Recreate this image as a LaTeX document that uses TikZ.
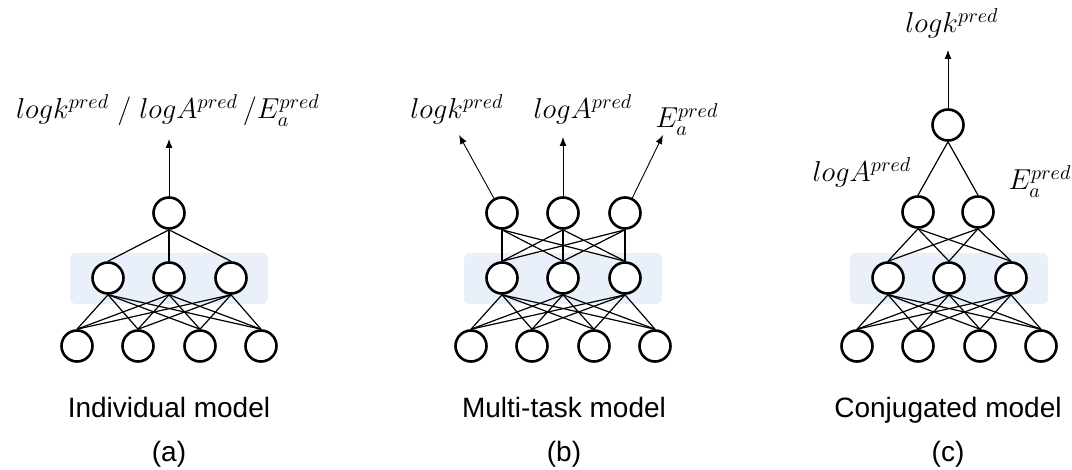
\documentclass[tikz,border=0pt]{standalone}
\usepackage{fontspec}
\setmainfont{Liberation Sans}
\usetikzlibrary{arrows.meta}
\definecolor{boxblue}{RGB}{233,240,249}

\begin{document}
\begin{tikzpicture}[x=0.5pt, y=-0.5pt,
    neuron/.style={circle, draw, fill=white, line width=1.3pt, minimum size=15.5pt, inner sep=0pt},
    link/.style={line width=0.6pt},
    outarrow/.style={-{Latex[length=4.5pt,width=3.5pt]}, line width=0.45pt},
    lbl/.style={font=\fontsize{14.5}{16}\selectfont, inner sep=0pt, anchor=base},
    captext/.style={font=\fontsize{14}{16}\selectfont, inner sep=0pt, anchor=base}]
    \useasboundingbox (0,0) rectangle (1072,470);

    % hidden layer boxes
    \fill[boxblue, rounded corners=3pt] (70,253) rectangle (268,304);
    \fill[boxblue, rounded corners=3pt] (464,253) rectangle (662,304);
    \fill[boxblue, rounded corners=3pt] (850,253) rectangle (1048,304);

    % (a) individual model
    \node[neuron] (a1) at (77,346) {};
    \node[neuron] (a2) at (138,346) {};
    \node[neuron] (a3) at (200,346) {};
    \node[neuron] (a4) at (261,346) {};
    \node[neuron] (ah1) at (108,278) {};
    \node[neuron] (ah2) at (169,278) {};
    \node[neuron] (ah3) at (231,278) {};
    \node[neuron] (ao) at (169,213) {};
    \coordinate (ta) at (169,139);
    \node[lbl] (la) at (168,119) {$logk^{pred}\ /\ logA^{pred}\,/E_a^{pred}$};

    \foreach \i in {1,...,4}
        \foreach \j in {1,2,3}
            \draw[link] (a\i.north) -- (ah\j.south);
    \foreach \j in {1,2,3}
        \draw[link] (ah\j.north) -- (ao.south);
    \draw[outarrow] (ao) -- (ta);

    % (b) multi-task model
    \node[neuron] (b1) at (471,346) {};
    \node[neuron] (b2) at (532,346) {};
    \node[neuron] (b3) at (594,346) {};
    \node[neuron] (b4) at (655,346) {};
    \node[neuron] (bh1) at (502,278) {};
    \node[neuron] (bh2) at (563,278) {};
    \node[neuron] (bh3) at (625,278) {};
    \node[neuron] (bo1) at (502,213) {};
    \node[neuron] (bo2) at (563,213) {};
    \node[neuron] (bo3) at (625,213) {};
    \coordinate (tb1) at (459,135);
    \coordinate (tb2) at (563,137);
    \coordinate (tb3) at (663,135);
    \node[lbl] (lb1) at (457,119) {$logk^{pred}$};
    \node[lbl] (lb2) at (583,119) {$logA^{pred}$};
    \node[lbl] (lb3) at (687,128) {$E_a^{pred}$};

    \foreach \i in {1,...,4}
        \foreach \j in {1,2,3}
            \draw[link] (b\i.north) -- (bh\j.south);
    \foreach \i in {1,2,3}
        \foreach \j in {1,2,3}
            \draw[link] (bh\i.north) -- (bo\j.south);
    \draw[outarrow] (bo1) -- (tb1);
    \draw[outarrow] (bo2) -- (tb2);
    \draw[outarrow] (bo3) -- (tb3);

    % (c) conjugated model
    \node[neuron] (c1) at (857,346) {};
    \node[neuron] (c2) at (918,346) {};
    \node[neuron] (c3) at (980,346) {};
    \node[neuron] (c4) at (1041,346) {};
    \node[neuron] (ch1) at (888,278) {};
    \node[neuron] (ch2) at (949,278) {};
    \node[neuron] (ch3) at (1011,278) {};
    \node[neuron] (cm1) at (918,212) {};
    \node[neuron] (cm2) at (978,212) {};
    \node[neuron] (co) at (948,125) {};
    \coordinate (tc) at (948,50);
    \node[lbl] (lc1) at (952,33) {$logk^{pred}$};
    \node[lbl] (lc2) at (862,182) {$logA^{pred}$};
    \node[lbl] (lc3) at (1040,190) {$E_a^{pred}$};

    \foreach \i in {1,...,4}
        \foreach \j in {1,2,3}
            \draw[link] (c\i.north) -- (ch\j.south);
    \foreach \i in {1,2,3}
        \foreach \j in {1,2}
            \draw[link] (ch\i.north) -- (cm\j.south);
    \draw[link] (cm1.north) -- (co.south);
    \draw[link] (cm2.north) -- (co.south);
    \draw[outarrow] (co) -- (tc);

    % captions
    \node[captext] (capa) at (169,418) {Individual model};
    \node[captext] (capb) at (564,418) {Multi-task model};
    \node[captext] (capc) at (948,418) {Conjugated model};
    \node[captext] (para) at (169,461) {(a)};
    \node[captext] (parb) at (564,461) {(b)};
    \node[captext] (parc) at (948,461) {(c)};
\end{tikzpicture}
\end{document}
